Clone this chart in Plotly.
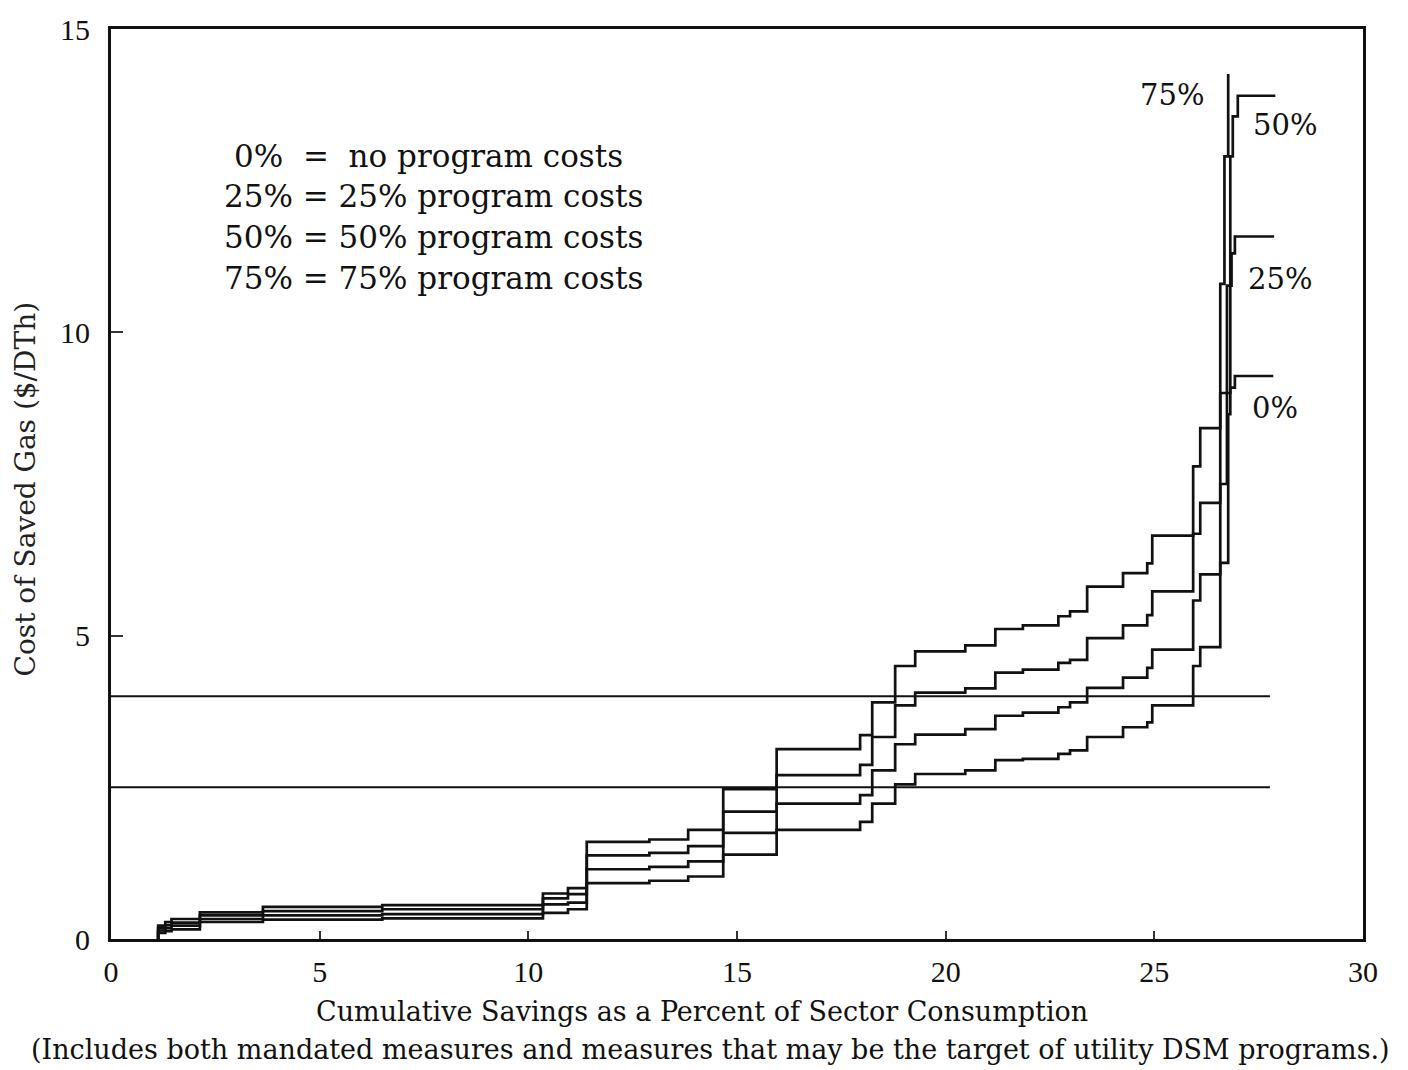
import plotly.graph_objects as go

# Shared breakpoints (cumulative savings, % of sector consumption) where each
# conservation measure begins; cost of saved gas ($/DTh) per program-cost case.
savings_pct = [1.13, 1.30, 1.45, 2.13, 3.64, 6.50, 10.35, 10.95, 11.40, 12.90,
               13.83, 14.67, 15.95, 17.95, 18.24, 18.79, 19.27, 20.47, 21.19,
               21.85, 22.70, 22.98, 23.39, 24.25, 24.83, 24.95, 25.93, 26.10]

cost_0 = [0.10, 0.13, 0.16, 0.28, 0.32, 0.34, 0.43, 0.49, 0.92, 0.96,
          1.03, 1.39, 1.80, 1.93, 2.23, 2.55, 2.72, 2.78, 2.95,
          2.97, 3.05, 3.11, 3.33, 3.49, 3.57, 3.85, 4.50, 4.81]
cost_25 = [0.14, 0.18, 0.22, 0.33, 0.39, 0.41, 0.57, 0.60, 1.15, 1.19,
           1.28, 1.75, 2.23, 2.37, 2.78, 3.21, 3.37, 3.46, 3.68,
           3.73, 3.82, 3.90, 4.14, 4.31, 4.47, 4.77, 5.58, 6.01]
cost_50 = [0.18, 0.23, 0.27, 0.39, 0.46, 0.49, 0.67, 0.74, 1.38, 1.42,
           1.53, 2.10, 2.70, 2.87, 3.33, 3.85, 4.06, 4.13, 4.39,
           4.44, 4.55, 4.60, 4.96, 5.17, 5.34, 5.73, 6.68, 7.19]
cost_75 = [0.22, 0.28, 0.33, 0.44, 0.53, 0.56, 0.75, 0.84, 1.60, 1.64,
           1.80, 2.47, 3.13, 3.36, 3.90, 4.50, 4.74, 4.84, 5.11,
           5.17, 5.32, 5.40, 5.81, 6.03, 6.19, 6.65, 7.79, 8.42]

# Most expensive measures at the top of each curve
tail_x_0 = [26.58, 26.77, 26.82, 26.93, 27.85]
tail_y_0 = [6.20, 8.65, 9.09, 9.28, 9.28]
tail_x_25 = [26.58, 26.74, 26.85, 26.93, 27.87]
tail_y_25 = [7.50, 10.77, 11.30, 11.58, 11.58]
tail_x_50 = [26.58, 26.82, 26.88, 27.00, 27.90]
tail_y_50 = [9.00, 12.90, 13.56, 13.90, 13.90]
tail_x_75 = [26.58, 26.68, 26.77, 26.77]
tail_y_75 = [10.80, 12.90, 14.26, 14.26]

# Avoided-cost reference levels ($/DTh) and their extent
reference_costs = [4.0, 2.5]
reference_end = 27.77

case_labels = ["0%", "25%", "50%", "75%"]
legend_lines = ["0%&nbsp; = &nbsp;no program costs",
                "25% = 25% program costs",
                "50% = 50% program costs",
                "75% = 75% program costs"]

x_title = "Cumulative Savings as a Percent of Sector Consumption"
x_subtitle = ("(Includes both mandated measures and measures that may be the "
              "target of utility DSM programs.)")
y_title = "Cost of Saved Gas ($/DTh)"

TEXT_FONT = "DejaVu Serif, serif"
TICK_FONT = "Liberation Serif, Times New Roman, serif"
INK = "#111"

W, H = 1408, 1070
L, R, T, B = 111, 45, 22, 131
pw, ph = W - L - R, H - T - B


def px_x(p):
    return (p - L) / pw


def px_y(p):
    return (H - B - p) / ph


fig = go.Figure()

for level in reference_costs:
    fig.add_trace(go.Scatter(x=[0, reference_end], y=[level, level], mode="lines",
                             line=dict(color=INK, width=2), hoverinfo="skip"))

curves = [(cost_0, tail_x_0, tail_y_0), (cost_25, tail_x_25, tail_y_25),
          (cost_50, tail_x_50, tail_y_50), (cost_75, tail_x_75, tail_y_75)]
for (vals, tx, ty), name in zip(curves, case_labels):
    xs = [savings_pct[0]] + savings_pct + tx
    ys = [0.0] + vals + ty
    fig.add_trace(go.Scatter(x=xs, y=ys, mode="lines", line_shape="hv", name=name,
                             line=dict(color=INK, width=2.7)))

annotations = []
# Curve labels
label_pos = {"75%": (25.43, 13.91), "50%": (28.13, 13.42),
             "25%": (28.01, 10.88), "0%": (27.89, 8.75)}
for lab in case_labels:
    lx, ly = label_pos[lab]
    annotations.append(dict(x=lx, y=ly, xref="x", yref="y", text=lab, showarrow=False,
                            font=dict(family=TEXT_FONT, size=29, color=INK)))

# Key for the program-cost cases
legend_y = [12.91, 12.25, 11.57, 10.89]
legend_x = [2.90, 2.66, 2.66, 2.66]
for txt, lx, ly in zip(legend_lines, legend_x, legend_y):
    annotations.append(dict(x=lx, y=ly, xref="x", yref="y", text=txt, showarrow=False,
                            xanchor="left", yanchor="middle",
                            font=dict(family=TEXT_FONT, size=31, color=INK)))

annotations.append(dict(x=px_x(702), y=px_y(1012), xref="paper", yref="paper",
                        text=x_title, showarrow=False, xanchor="center", yanchor="middle",
                        font=dict(family=TEXT_FONT, size=27, color=INK)))
annotations.append(dict(x=px_x(710), y=px_y(1050), xref="paper", yref="paper",
                        text=x_subtitle, showarrow=False, xanchor="center", yanchor="middle",
                        font=dict(family=TEXT_FONT, size=27, color=INK)))
annotations.append(dict(x=px_x(25), y=px_y(486), xref="paper", yref="paper",
                        text=y_title, showarrow=False, textangle=-90,
                        xanchor="center", yanchor="middle",
                        font=dict(family=TEXT_FONT, size=28, color="#222")))

fig.update_layout(
    width=W, height=H,
    margin=dict(l=L, r=R, t=T, b=B),
    paper_bgcolor="white", plot_bgcolor="white",
    showlegend=False,
    annotations=annotations,
    font=dict(family=TICK_FONT, color=INK),
)
fig.update_xaxes(range=[0, 30], tickvals=[0, 5, 10, 15, 20, 25, 30],
                 showgrid=False, zeroline=False,
                 showline=True, mirror=True, linecolor=INK, linewidth=3,
                 ticks="inside", ticklen=8, tickwidth=1.5, tickcolor="#333",
                 ticklabelstandoff=4,
                 tickfont=dict(family=TICK_FONT, size=30, color=INK))
fig.update_yaxes(range=[0, 15], tickvals=[0, 5, 10, 15],
                 showgrid=False, zeroline=False,
                 showline=True, mirror=True, linecolor=INK, linewidth=3,
                 ticks="inside", ticklen=12, tickwidth=1.5, tickcolor="#333",
                 ticklabelstandoff=12,
                 tickfont=dict(family=TICK_FONT, size=30, color=INK))

fig.write_html("out.html")
